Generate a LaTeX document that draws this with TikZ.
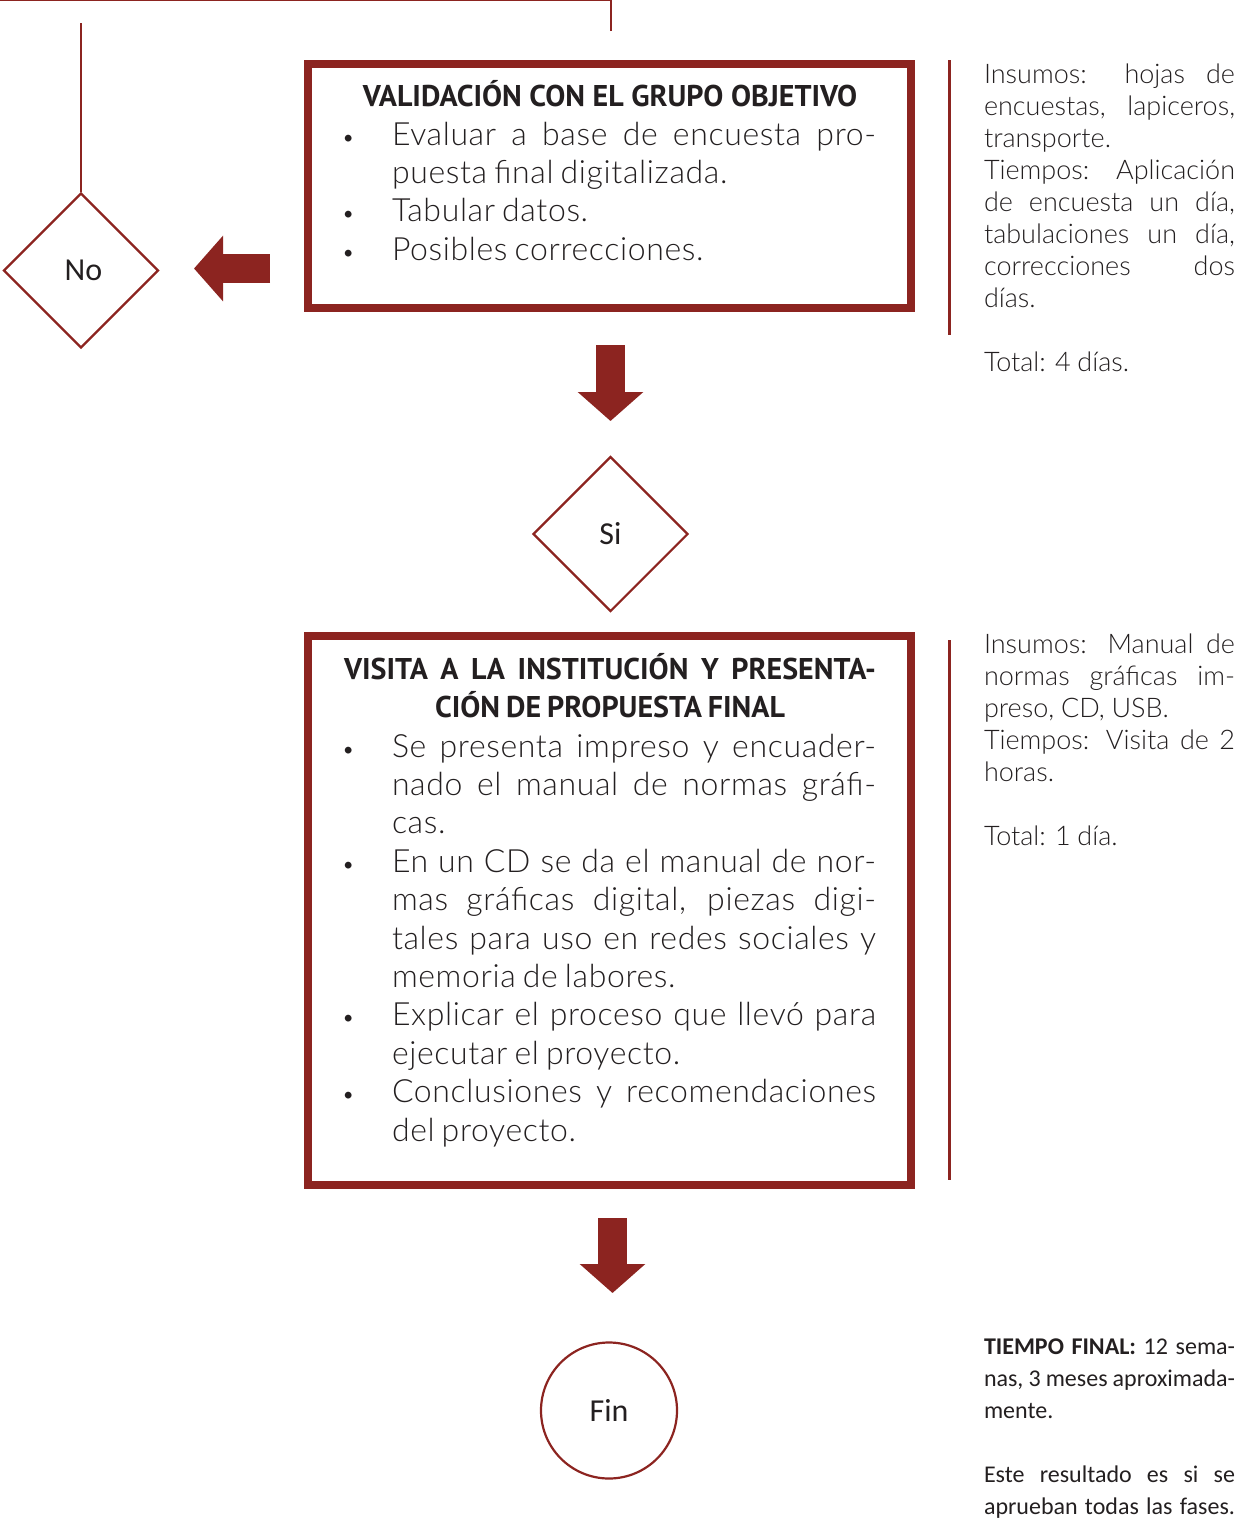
\documentclass[tikz,border=0pt]{standalone}
\usepackage{fontspec}
\usetikzlibrary{shapes.geometric,arrows.meta}
\IfFontExistsTF{Lato Light}{\setmainfont{Lato Light}}{\setmainfont{Lato}}
\IfFontExistsTF{Lato Light}{\newfontfamily\bodyfont{Lato Light}[LetterSpace=2.0]}{\newfontfamily\bodyfont{Lato}[LetterSpace=2.0]}
\newfontfamily\titlefont{PT Sans}[UprightFont=* Bold]
\newfontfamily\calfont{Carlito}
\definecolor{myred}{HTML}{8C2420}
\definecolor{ink}{HTML}{231F20}
\newcommand\jline[1]{\hbox to \hsize{#1}}
\newcommand\lline[1]{\hbox{#1}}
\newcommand\bul{\llap{{\fontsize{23}{23}\selectfont\textbullet}\hspace{37pt}}}
\newcommand\bodyblock[1]{\vtop{\hsize=484pt\bodyfont\fontsize{32}{38.4}\selectfont\spaceskip=.22em plus 1em minus .1em\relax #1}}
\newcommand\sideblock[1]{\vtop{\hsize=251pt\fontsize{27}{32}\selectfont\spaceskip=.25em plus 1em minus .08em\relax #1}}
\newcommand\calblock[1]{\vtop{\hsize=251pt\calfont\fontsize{24}{32}\selectfont\spaceskip=.22em plus 1em minus .06em\relax #1}}
\tikzset{
  txt/.style={inner sep=0pt, outer sep=0pt, text=ink},
  bigbox/.style={draw=myred, line width=8pt, inner sep=0pt, minimum width=603pt},
  decision/.style={diamond, draw=myred, line width=2.2pt, minimum width=155pt, minimum height=155pt, inner sep=0pt, text=ink, font=\calfont\fontsize{32}{32}\selectfont},
  endnode/.style={circle, draw=myred, line width=2.2pt, minimum size=136pt, inner sep=0pt, text=ink, font=\calfont\fontsize{32}{32}\selectfont},
  blockarrow/.style={draw=myred, line width=29pt, -{Triangle[width=64pt,length=29pt]}},
  thinline/.style={draw=myred, line width=2pt},
  sideline/.style={draw=myred, line width=3pt},
}
\begin{document}
\begin{tikzpicture}[x=1pt,y=-1pt]
\useasboundingbox (0,0) rectangle (1241,1521);
% boxes
\node[bigbox, minimum height=244pt] (box1) at (609.5,186) {};
\node[bigbox, minimum height=549pt] (box2) at (609.5,910.5) {};
% decisions
\node[decision] (no) at (81,270.5) {\hspace{5pt}No};
\node[decision] (si) at (610.5,534) {Si};
\node[endnode] (fin) at (609,1410.5) {\raisebox{-3pt}{Fin}};
% box 1 text
\node[txt, anchor=base] (t1) at (610,106) {\titlefont\fontsize{30}{36}\selectfont VALIDACIÓN CON EL GRUPO OBJETIVO};
\node[txt, anchor=base west] (b1) at (392,145) {\bodyblock{%
\jline{\bul Evaluar a base de encuesta pro-}
\lline{puesta final digitalizada.}
\lline{\bul Tabular datos.}
\lline{\bul Posibles correcciones.}}};
% box 2 text
\node[txt, anchor=base west] (t2) at (344,679) {\vtop{\hsize=532pt\titlefont\fontsize{30}{38}\selectfont\spaceskip=.2em plus 1em minus .05em\relax
\jline{VISITA A LA INSTITUCIÓN Y PRESENTA-}
\jline{\hss CIÓN DE PROPUESTA FINAL\hss}}};
\node[txt, anchor=base west] (b2) at (392,757) {\bodyblock{%
\jline{\bul Se presenta impreso y encuader-}
\jline{nado el manual de normas gráfi-}
\lline{cas.}
\jline{\bul En un CD se da el manual de nor-}
\jline{mas gráficas digital, piezas digi-}
\jline{tales para uso en redes sociales y}
\lline{memoria de labores.}
\jline{\bul Explicar el proceso que llevó para}
\lline{ejecutar el proyecto.}
\jline{\bul Conclusiones y recomendaciones}
\lline{del proyecto.}}};
% side notes
\node[txt, anchor=base west] (s1) at (984,83) {\sideblock{%
\jline{Insumos: hojas de}
\jline{encuestas, lapiceros,}
\lline{transporte.}
\jline{Tiempos: Aplicación}
\jline{de encuesta un día,}
\jline{tabulaciones un día,}
\jline{correcciones dos}
\lline{días.}
\lline{}
\lline{Total: 4 días.}}};
\node[txt, anchor=base west] (s2) at (984,653) {\sideblock{%
\jline{Insumos: Manual de}
\jline{normas gráficas im-}
\lline{preso, CD, USB.}
\jline{Tiempos: Visita de 2}
\lline{horas.}
\lline{}
\lline{Total: 1 día.}}};
\node[txt, anchor=base west] (s3) at (984,1354) {\calblock{%
\jline{{\bfseries TIEMPO FINAL:} 12 sema-}
\jline{nas, 3 meses aproximada-}
\lline{mente.}
\lline{}
\jline{Este resultado es si se}
\jline{aprueban todas las fases.}}};
% side lines
\coordinate (l1a) at (949,60); \coordinate (l1b) at (949,335);
\coordinate (l2a) at (949,640); \coordinate (l2b) at (949,1180);
\draw[sideline] (l1a) -- (l1b);
\draw[sideline] (l2a) -- (l2b);
% top connectors
\coordinate (nTop) at (81,23);
\draw[thinline] (no.north) -- (nTop);
\coordinate (c0) at (611,31); \coordinate (c1) at (611,0); \coordinate (c2) at (0,0);
\draw[thinline] (c0) -- (c1) -- (c2);
% block arrows
\coordinate (a0s) at (270,268.5); \coordinate (a0e) at (194,268.5);
\coordinate (a1s) at (610.5,345); \coordinate (a1e) at (610.5,421);
\coordinate (a2s) at (612.5,1218); \coordinate (a2e) at (612.5,1293);
\draw[blockarrow] (a0s) -- (a0e);
\draw[blockarrow] (a1s) -- (a1e);
\draw[blockarrow] (a2s) -- (a2e);
\end{tikzpicture}
\end{document}
